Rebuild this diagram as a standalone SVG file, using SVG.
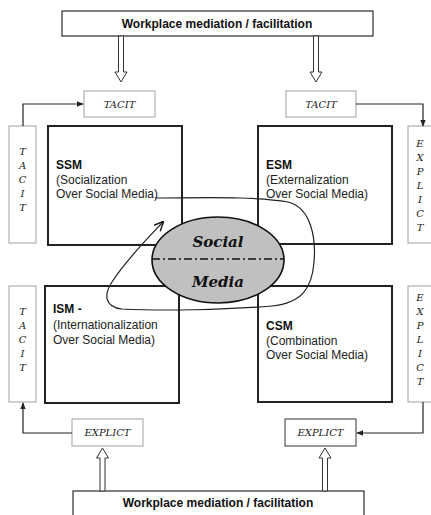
<svg xmlns="http://www.w3.org/2000/svg" width="431" height="515" viewBox="0 0 431 515">
<style>
.main{fill:#fff;stroke:#222;stroke-width:2}
.lbl{fill:#fff;stroke:#a0a0a0;stroke-width:1}
.lbld{fill:#fff;stroke:#333;stroke-width:1}
.wm{fill:#fff;stroke:#000;stroke-width:1}
.wt{font-family:"Liberation Sans",Arial,sans-serif;font-weight:bold;font-size:12px;fill:#111;text-anchor:middle}
.bt{font-family:"Liberation Sans",Arial,sans-serif;font-size:12px;fill:#222}
.bh{font-weight:bold;fill:#111}
.cal{font-family:"DejaVu Serif","Liberation Serif",serif;font-style:italic;font-size:10px;fill:#222;text-anchor:middle}
.sm{font-family:"DejaVu Serif","Liberation Serif",serif;font-style:italic;font-weight:bold;font-size:15px;fill:#111;text-anchor:middle}
.conn{fill:none;stroke:#222;stroke-width:1.2}
.hollow{fill:#fff;stroke:#333;stroke-width:1}
</style>
<defs>
<marker id="ah" viewBox="0 0 10 10" refX="9" refY="5" markerWidth="6" markerHeight="6" orient="auto">
<path d="M0,1 L10,5 L0,9 z" fill="#222"/>
</marker>
<marker id="av" viewBox="0 0 10 10" refX="9" refY="5" markerWidth="8" markerHeight="8" orient="auto">
<path d="M0,0.5 L10,5 L0,9.5" fill="none" stroke="#111" stroke-width="1.4"/>
</marker>
</defs>

<g id="top-mediation">
<rect class="wm" x="62" y="11" width="311" height="25"/>
<text class="wt" x="217" y="28">Workplace mediation / facilitation</text>
</g>
<g id="bottom-mediation">
<rect class="wm" x="73" y="491" width="291" height="30"/>
<text class="wt" x="218" y="507">Workplace mediation / facilitation</text>
</g>

<g id="hollow-arrows">
<path class="hollow" d="M118.5,36 L123.5,36 L123.5,72 L127,72 L121,82 L115,72 L118.5,72 z"/>
<path class="hollow" d="M313.5,36 L318.5,36 L318.5,72 L322,72 L316,82 L310,72 L313.5,72 z"/>
<path class="hollow" d="M100,491 L105,491 L105,458 L108.5,458 L102.5,448 L96.5,458 L100,458 z"/>
<path class="hollow" d="M322.5,491 L327.5,491 L327.5,458 L331,458 L325,448 L319,458 L322.5,458 z"/>
</g>

<g id="tacit-top-left">
<rect class="lbl" x="84" y="91" width="71" height="26"/>
<text class="cal" x="119.5" y="108">TACIT</text>
</g>
<g id="tacit-top-right">
<rect class="lbl" x="286" y="91" width="70" height="26"/>
<text class="cal" x="321" y="108">TACIT</text>
</g>
<g id="explict-bottom-left">
<rect class="lbl" x="72" y="419" width="71" height="27"/>
<text class="cal" x="107.5" y="436">EXPLICT</text>
</g>
<g id="explict-bottom-right">
<rect class="lbld" x="285" y="419" width="71" height="27"/>
<text class="cal" x="320.5" y="436">EXPLICT</text>
</g>

<g id="tacit-left-upper">
<rect class="lbl" x="9" y="126" width="27" height="117"/>
<text class="cal" x="22.5"><tspan x="22.5" y="155">T</tspan><tspan x="22.5" y="169">A</tspan><tspan x="22.5" y="183">C</tspan><tspan x="22.5" y="197">I</tspan><tspan x="22.5" y="211">T</tspan></text>
</g>
<g id="tacit-left-lower">
<rect class="lbl" x="9" y="286" width="27" height="116"/>
<text class="cal" x="22.5"><tspan x="22.5" y="315">T</tspan><tspan x="22.5" y="329">A</tspan><tspan x="22.5" y="343">C</tspan><tspan x="22.5" y="357">I</tspan><tspan x="22.5" y="371">T</tspan></text>
</g>
<g id="explicit-right-upper">
<rect class="lbl" x="408" y="126" width="24" height="117"/>
<text class="cal" x="420"><tspan x="420" y="147">E</tspan><tspan x="420" y="161">X</tspan><tspan x="420" y="175">P</tspan><tspan x="420" y="189">L</tspan><tspan x="420" y="203">I</tspan><tspan x="420" y="217">C</tspan><tspan x="420" y="231">T</tspan></text>
</g>
<g id="explicit-right-lower">
<rect class="lbl" x="408" y="286" width="24" height="116"/>
<text class="cal" x="420"><tspan x="420" y="301">E</tspan><tspan x="420" y="315">X</tspan><tspan x="420" y="329">P</tspan><tspan x="420" y="343">L</tspan><tspan x="420" y="357">I</tspan><tspan x="420" y="371">C</tspan><tspan x="420" y="385">T</tspan></text>
</g>

<g id="ssm">
<rect class="main" x="48" y="126" width="134" height="119"/>
<text class="bt"><tspan class="bh" x="56" y="169">SSM</tspan><tspan x="56" y="184">(Socialization</tspan><tspan x="56" y="198">Over Social Media)</tspan></text>
</g>
<g id="esm">
<rect class="main" x="258" y="126" width="134" height="118"/>
<text class="bt"><tspan class="bh" x="266" y="169">ESM</tspan><tspan x="266" y="184">(Externalization</tspan><tspan x="266" y="198">Over Social Media)</tspan></text>
</g>
<g id="ism">
<rect class="main" x="45" y="286" width="134" height="117"/>
<text class="bt"><tspan class="bh" x="53" y="313">ISM -</tspan><tspan x="53" y="329">(Internationalization</tspan><tspan x="53" y="344">Over Social Media)</tspan></text>
</g>
<g id="csm">
<rect class="main" x="258" y="286" width="134" height="116"/>
<text class="bt"><tspan class="bh" x="266" y="330">CSM</tspan><tspan x="266" y="345">(Combination</tspan><tspan x="266" y="359">Over Social Media)</tspan></text>
</g>

<g id="connectors">
<path class="conn" d="M23,126 L23,104 L83,104" marker-end="url(#ah)"/>
<path class="conn" d="M356,104 L423,104 L423,126" marker-end="url(#ah)"/>
<path class="conn" d="M72,433 L23,433 L23,403" marker-end="url(#ah)"/>
<path class="conn" d="M423,402 L423,433 L357,433" marker-end="url(#ah)"/>
<path class="conn" stroke-width="1.4" d="M155,198 C200,198 255,196 288,202 C312,208 316,240 314,262 C312,288 302,303 272,306 C225,310 160,311 122,309 C104,307 104,294 112,282 C126,260 146,240 163,222" marker-end="url(#av)"/>
</g>

<g id="social-media">
<ellipse cx="218" cy="260" rx="66" ry="43" fill="#c0c0c0" stroke="#111" stroke-width="1.6"/>
<line x1="152" y1="259" x2="284" y2="259" stroke="#111" stroke-width="1.6" stroke-dasharray="8,3,2,3"/>
<text class="sm" x="218" y="247">Social</text>
<text class="sm" x="218" y="287">Media</text>
</g>
</svg>
